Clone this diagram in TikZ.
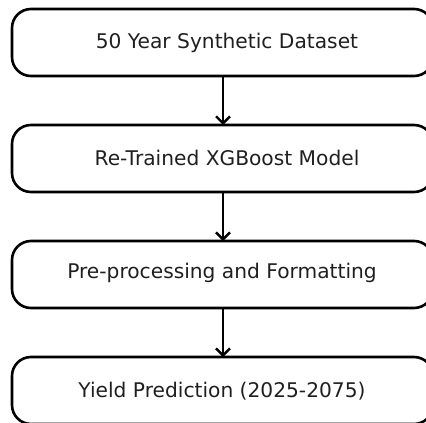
\documentclass[tikz,border=0pt]{standalone}
\usepackage{fontspec}
\setmainfont{DejaVu Sans}
\usetikzlibrary{arrows.meta}
\begin{document}
\begin{tikzpicture}[x=1pt,y=-1pt,
  stage/.style={draw=black,line width=2.6pt,rounded corners=19pt,
    minimum width=421pt,minimum height=67pt,inner sep=0pt},
  label/.style={font=\fontsize{20.2}{22}\selectfont,text=black!88,inner sep=0pt},
  flow/.style={line width=2.4pt,-{Straight Barb[length=7pt,width=14pt,line width=2.4pt]}}]
\useasboundingbox (0,0) rectangle (426,423);
\begin{scope}
\clip (0,0) rectangle (426,423);
\node[stage] (s1) at (222.5,42.5) {};
\node[stage] (s2) at (222.5,158.5) {};
\node[stage] (s3) at (222.5,274.5) {};
\node[stage] (s4) at (222.5,390.5) {};
\end{scope}
\node[label] (t1) at (227,43) {50 Year Synthetic Dataset};
\node[label] (t2) at (227,158) {Re-Trained XGBoost Model};
\node[label] (t3) at (222,273) {Pre-processing and Formatting};
\node[label] (t4) at (222,391) {Yield Prediction (2025-2075)};
\coordinate (a1) at (223,76);
\coordinate (b1) at (223,125);
\coordinate (a2) at (223,192);
\coordinate (b2) at (223,241);
\coordinate (a3) at (223,308);
\coordinate (b3) at (223,357);
\draw[flow] (a1) -- (b1);
\draw[flow] (a2) -- (b2);
\draw[flow] (a3) -- (b3);
\end{tikzpicture}
\end{document}
